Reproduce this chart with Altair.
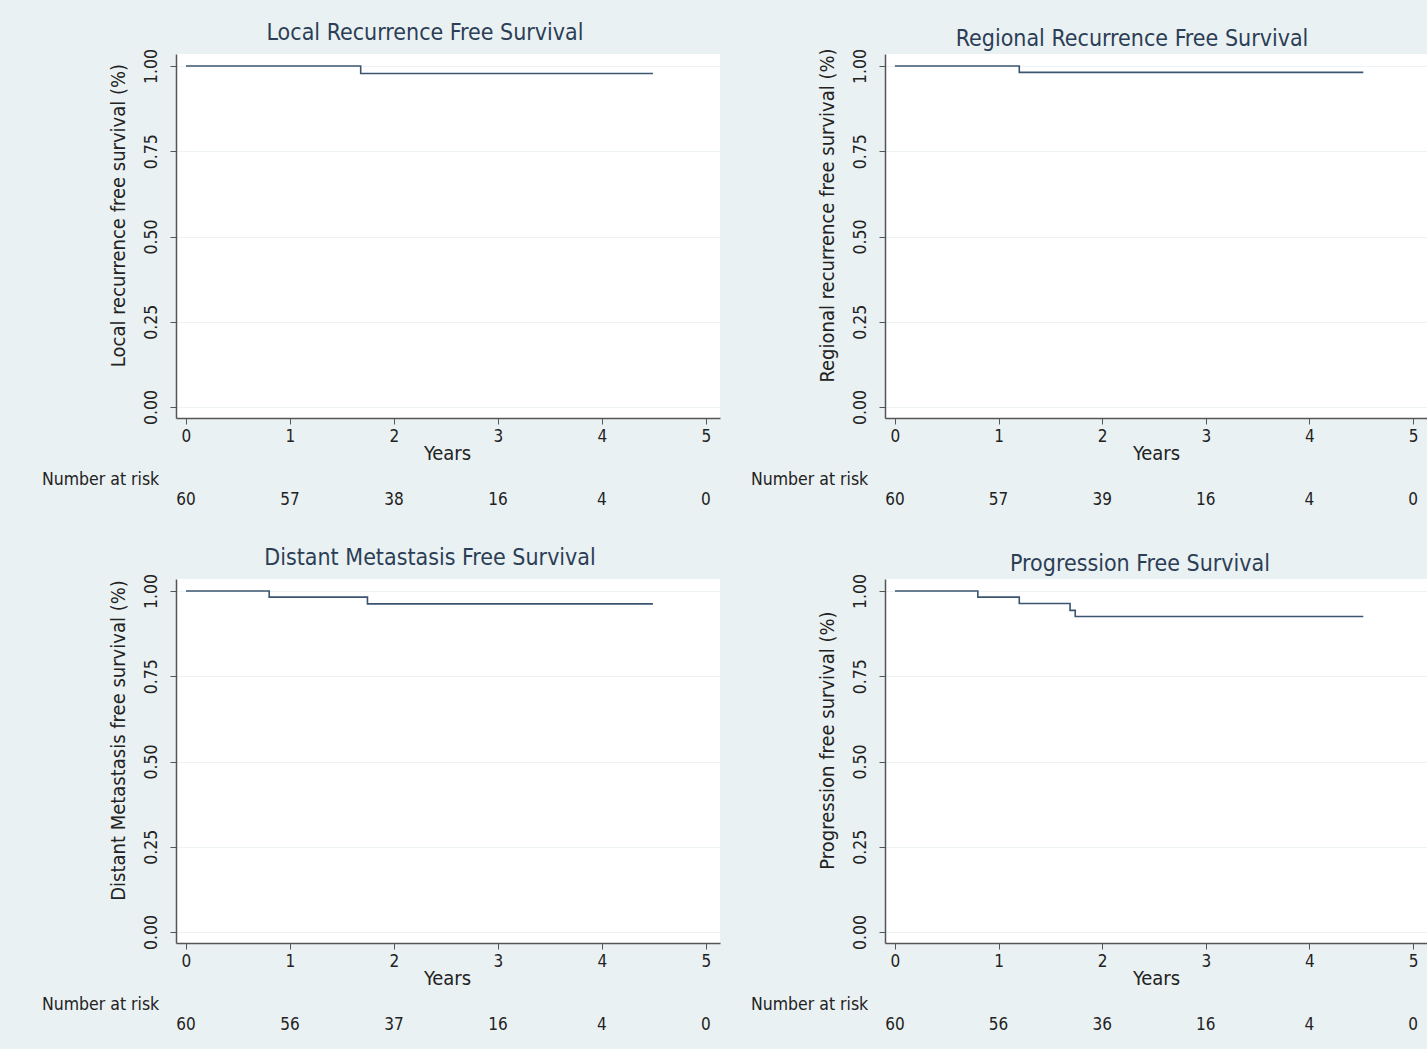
import altair as alt
import pandas as pd

# Years on the x axis and survival ticks on the y axis
YEAR_TICKS = [0, 1, 2, 3, 4, 5]
SURV_TICKS = [0.0, 0.25, 0.5, 0.75, 1.0]

# Kaplan-Meier step points (time in years, survival proportion)
local_t = [0.0, 1.68, 4.49]
local_s = [1.0, 0.978, 0.978]

regional_t = [0.0, 1.20, 4.52]
regional_s = [1.0, 0.981, 0.981]

distant_t = [0.0, 0.80, 1.745, 4.49]
distant_s = [1.0, 0.982, 0.962, 0.962]

pfs_t = [0.0, 0.80, 1.20, 1.69, 1.74, 4.52]
pfs_s = [1.0, 0.982, 0.963, 0.943, 0.925, 0.925]

# Number at risk at each yearly tick
risk_local = [60, 57, 38, 16, 4, 0]
risk_regional = [60, 57, 39, 16, 4, 0]
risk_distant = [60, 56, 37, 16, 4, 0]
risk_pfs = [60, 56, 36, 16, 4, 0]

FONT = "DejaVu Sans Condensed"
LINE_COLOR = "#3b5570"
TITLE_COLOR = "#2c3e55"
TEXT_COLOR = "#222222"
AXIS_COLOR = "#555555"
BG = "#eaf1f3"

W_LEFT, W_RIGHT, H = 544, 542, 364

x_scale = alt.Scale(domain=[-0.096, 5.135], nice=False, zero=False)
y_scale = alt.Scale(domain=[-0.032, 1.035], nice=False, zero=False)


def panel(title, ytitle, t, s, risk, width, title_dx, title_dy, anchor=None):
    curve = pd.DataFrame({"t": t, "s": s})
    at_risk = pd.DataFrame({"t": YEAR_TICKS, "n": risk})

    x_axis = alt.Axis(
        values=YEAR_TICKS, format="d", title="Years", grid=False,
        domainColor=AXIS_COLOR, domainWidth=1.5, tickColor=AXIS_COLOR,
        tickSize=6, labelFontSize=17, labelColor=TEXT_COLOR, labelPadding=4,
        titleFontSize=20, titleFontWeight="normal", titleColor=TEXT_COLOR,
        titleX=271, titleY=35, titleBaseline="middle", titleAlign="center",
    )
    y_axis = alt.Axis(
        values=SURV_TICKS, format=".2f", title=ytitle,
        grid=True, gridColor="#edf2f4", gridWidth=1,
        domainColor=AXIS_COLOR, domainWidth=1.5, tickColor=AXIS_COLOR,
        tickSize=6, labelFontSize=17.5, labelColor=TEXT_COLOR,
        labelAngle=270, labelAlign="center", labelBaseline="bottom", labelPadding=10,
        titleFontSize=20, titleFontWeight="normal", titleColor=TEXT_COLOR,
        titleAngle=270, titleAlign="center", titleBaseline="middle",
        titleX=-58, titleY=161,
    )

    line = alt.Chart(curve).mark_line(
        interpolate="step-after", color=LINE_COLOR, strokeWidth=1.6
    ).encode(
        x=alt.X("t:Q", scale=x_scale, axis=x_axis),
        y=alt.Y("s:Q", scale=y_scale, axis=y_axis),
    )

    # risk counts share the year scale of the curve
    risk_text = alt.Chart(at_risk).mark_text(
        fontSize=17, color=TEXT_COLOR, baseline="middle", align="center"
    ).encode(
        x=alt.X("t:Q"),
        y=alt.value(446),
        text=alt.Text("n:Q", format="d"),
    )

    risk_label = alt.Chart(pd.DataFrame({"label": ["Number at risk"]})).mark_text(
        fontSize=17.5, color=TEXT_COLOR, baseline="middle", align="left"
    ).encode(x=alt.value(-134), y=alt.value(426), text="label:N")

    heading = alt.Chart(pd.DataFrame({"label": [title]})).mark_text(
        fontSize=23, color=TITLE_COLOR, baseline="middle", align="center"
    ).encode(x=alt.value(title_dx), y=alt.value(title_dy), text="label:N")

    layers = [line, risk_text, risk_label, heading]
    if anchor is not None:
        # transparent rule that pins the outer edge of the figure
        (ax1, ax2, ay) = anchor
        layers.append(
            alt.Chart(pd.DataFrame({"k": [0]})).mark_rule(opacity=0, strokeWidth=0).encode(
                x=alt.value(ax1), x2=alt.value(ax2), y=alt.value(ay)
            )
        )
    return alt.layer(*layers).properties(width=width, height=H)


p1 = panel("Local Recurrence Free Survival", "Local recurrence free survival (%)",
           local_t, local_s, risk_local, W_LEFT, 249, -21, anchor=(-176, -100, -54))
p2 = panel("Regional Recurrence Free Survival", "Regional recurrence free survival (%)",
           regional_t, regional_s, risk_regional, W_RIGHT, 247, -15)
p3 = panel("Distant Metastasis Free Survival", "Distant Metastasis free survival (%)",
           distant_t, distant_s, risk_distant, W_LEFT, 254, -21)
p4 = panel("Progression Free Survival", "Progression free survival (%)",
           pfs_t, pfs_s, risk_pfs, W_RIGHT, 255, -15, anchor=(400, 542, 470))

chart = alt.concat(
    p1, p2, p3, p4, columns=2,
    spacing=alt.RowColnumber(row=161, column=165), bounds="flush",
).properties(
    background=BG, padding=0
).configure(font=FONT).configure_view(fill="white", stroke=None)

chart.save("out.html", embed_options={"renderer": "svg", "actions": False})
